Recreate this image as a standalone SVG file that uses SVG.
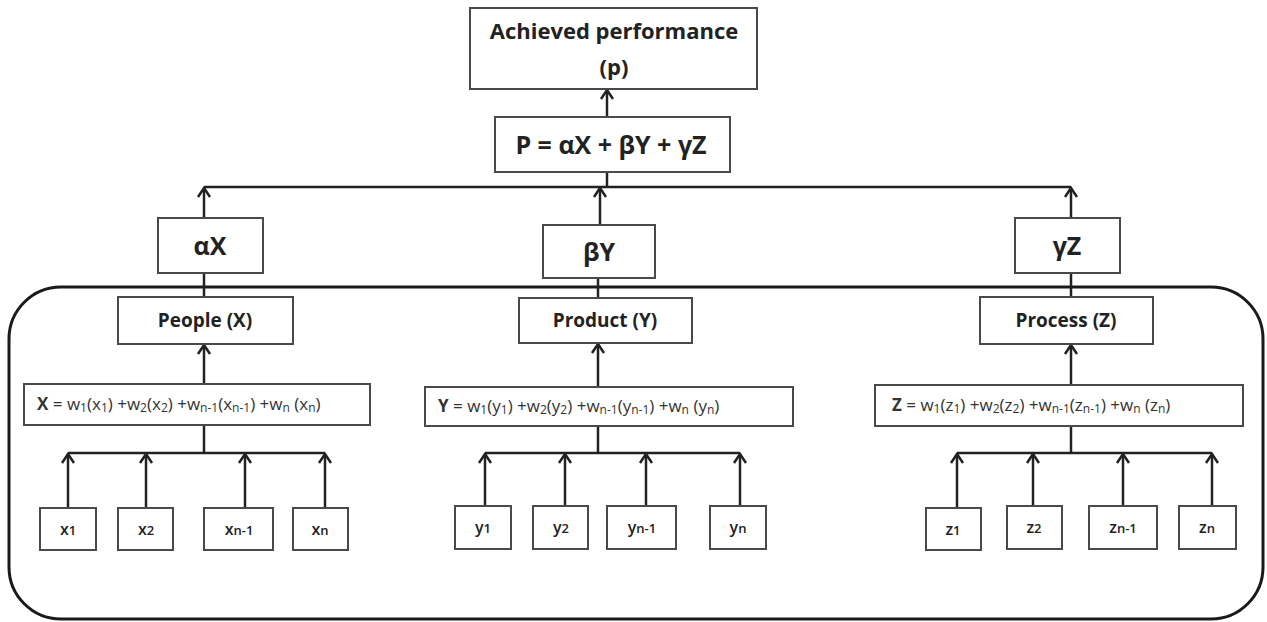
<svg xmlns="http://www.w3.org/2000/svg" width="1267" height="622" viewBox="0 0 1267 622">
  <style>
    .box { fill: #ffffff; stroke: #4a4a4a; stroke-width: 2; }
    .frame { fill: none; stroke: #1a1a1a; stroke-width: 3; }
    .wire { fill: none; stroke: #222222; stroke-width: 2.5; }
    .arrow { fill: none; stroke: #222222; stroke-width: 2.5; marker-end: url(#head); }
    .t { font-family: "Open Sans", "Liberation Sans", sans-serif; fill: #222222; text-anchor: middle; }
    .title { font-size: 22px; font-weight: 700; }
    .big { font-size: 25px; font-weight: 700; }
    .mid { font-size: 19px; font-weight: 700; }
    .f { font-size: 17px; font-weight: 400; fill: #333333; text-anchor: start; }
    .leaf { font-size: 16px; font-weight: 600; }
    .sub { font-size: 12px; }
  </style>
  <defs>
    <!-- open chevron head, tip at the path end -->
    <marker id="head" viewBox="-11 -8 13 16" refX="0" refY="0" markerWidth="13" markerHeight="16" markerUnits="userSpaceOnUse" orient="auto">
      <path d="M-9,-6 L0,0 L-9,6" fill="none" stroke="#222222" stroke-width="2.5"/>
    </marker>
  </defs>

  <!-- outer rounded frame around the three sub-models -->
  <rect id="frame" class="frame" x="9" y="287" width="1254" height="332" rx="52" ry="52"/>

  <!-- connectors -->
  <g id="connectors">
    <!-- P formula to achieved performance -->
    <path class="arrow" d="M607,117 V90"/>
    <!-- summing bus -->
    <path class="wire" d="M204,187 H1071"/>
    <path class="wire" d="M607,172 V187"/>
    <path class="arrow" d="M204,218 V188"/>
    <path class="arrow" d="M600,225 V188"/>
    <path class="arrow" d="M1071,218 V188"/>
    <!-- weighted terms to categories -->
    <path class="wire" d="M204,273 V297"/>
    <path class="wire" d="M598,278 V298"/>
    <path class="wire" d="M1071,273 V297"/>
    <!-- category formulas to categories -->
    <path class="arrow" d="M204,384 V345"/>
    <path class="arrow" d="M598,387 V344"/>
    <path class="arrow" d="M1071,385 V345"/>
    <!-- people leaves -->
    <path class="wire" d="M204,425 V453"/>
    <path class="wire" d="M68,453 H325"/>
    <path class="arrow" d="M68,508 V454"/>
    <path class="arrow" d="M146,508 V454"/>
    <path class="arrow" d="M245,508 V454"/>
    <path class="arrow" d="M325,508 V454"/>
    <!-- product leaves -->
    <path class="wire" d="M598,426 V453"/>
    <path class="wire" d="M485,453 H740"/>
    <path class="arrow" d="M485,506 V454"/>
    <path class="arrow" d="M565,506 V454"/>
    <path class="arrow" d="M646,506 V454"/>
    <path class="arrow" d="M740,506 V454"/>
    <!-- process leaves -->
    <path class="wire" d="M1071,426 V453"/>
    <path class="wire" d="M957,453 H1212"/>
    <path class="arrow" d="M957,508 V454"/>
    <path class="arrow" d="M1033,506 V454"/>
    <path class="arrow" d="M1123,506 V454"/>
    <path class="arrow" d="M1212,506 V454"/>
  </g>

  <g id="achieved">
    <rect class="box" x="470" y="8" width="287" height="81"/>
    <text class="t title" x="614" y="39">Achieved performance</text>
    <text class="t title" x="614" y="75">(p)</text>
  </g>

  <g id="p-formula">
    <rect class="box" x="495" y="117" width="235" height="55"/>
    <text class="t big" x="611" y="154">P = αX + βY + γZ</text>
  </g>

  <g id="alpha-x">
    <rect class="box" x="158" y="218" width="105" height="55"/>
    <text class="t big" x="210" y="255">αX</text>
  </g>
  <g id="beta-y">
    <rect class="box" x="543" y="225" width="112" height="53"/>
    <text class="t big" x="599" y="261">βY</text>
  </g>
  <g id="gamma-z">
    <rect class="box" x="1015" y="218" width="105" height="55"/>
    <text class="t big" x="1067" y="255">γZ</text>
  </g>

  <g id="people">
    <rect class="box" x="118" y="297" width="175" height="47"/>
    <text class="t mid" x="205" y="327">People (X)</text>
  </g>
  <g id="product">
    <rect class="box" x="519" y="298" width="173" height="45"/>
    <text class="t mid" x="605" y="327">Product (Y)</text>
  </g>
  <g id="process">
    <rect class="box" x="980" y="297" width="173" height="47"/>
    <text class="t mid" x="1066" y="327">Process (Z)</text>
  </g>

  <g id="x-formula">
    <rect class="box" x="24" y="384" width="346" height="41"/>
    <text class="t f" x="37" y="410"><tspan font-weight="700">X</tspan> = w<tspan class="sub" dy="2">1</tspan><tspan dy="-2">(x</tspan><tspan class="sub" dy="2">1</tspan><tspan dy="-2">) +w</tspan><tspan class="sub" dy="2">2</tspan><tspan dy="-2">(x</tspan><tspan class="sub" dy="2">2</tspan><tspan dy="-2">) +w</tspan><tspan class="sub" dy="2">n-1</tspan><tspan dy="-2">(x</tspan><tspan class="sub" dy="2">n-1</tspan><tspan dy="-2">) +w</tspan><tspan class="sub" dy="2">n</tspan><tspan dy="-2"> (x</tspan><tspan class="sub" dy="2">n</tspan><tspan dy="-2">)</tspan></text>
  </g>
  <g id="y-formula">
    <rect class="box" x="425" y="387" width="368" height="39"/>
    <text class="t f" x="438" y="412"><tspan font-weight="700">Y</tspan> = w<tspan class="sub" dy="2">1</tspan><tspan dy="-2">(y</tspan><tspan class="sub" dy="2">1</tspan><tspan dy="-2">) +w</tspan><tspan class="sub" dy="2">2</tspan><tspan dy="-2">(y</tspan><tspan class="sub" dy="2">2</tspan><tspan dy="-2">) +w</tspan><tspan class="sub" dy="2">n-1</tspan><tspan dy="-2">(y</tspan><tspan class="sub" dy="2">n-1</tspan><tspan dy="-2">) +w</tspan><tspan class="sub" dy="2">n</tspan><tspan dy="-2"> (y</tspan><tspan class="sub" dy="2">n</tspan><tspan dy="-2">)</tspan></text>
  </g>
  <g id="z-formula">
    <rect class="box" x="875" y="385" width="368" height="41"/>
    <text class="t f" x="892" y="411"><tspan font-weight="700">Z</tspan> = w<tspan class="sub" dy="2">1</tspan><tspan dy="-2">(z</tspan><tspan class="sub" dy="2">1</tspan><tspan dy="-2">) +w</tspan><tspan class="sub" dy="2">2</tspan><tspan dy="-2">(z</tspan><tspan class="sub" dy="2">2</tspan><tspan dy="-2">) +w</tspan><tspan class="sub" dy="2">n-1</tspan><tspan dy="-2">(z</tspan><tspan class="sub" dy="2">n-1</tspan><tspan dy="-2">) +w</tspan><tspan class="sub" dy="2">n</tspan><tspan dy="-2"> (z</tspan><tspan class="sub" dy="2">n</tspan><tspan dy="-2">)</tspan></text>
  </g>

  <!-- people indicators -->
  <g id="x1"><rect class="box" x="40" y="508" width="56" height="42"/><text class="t leaf" x="68" y="535">x<tspan font-size="13">1</tspan></text></g>
  <g id="x2"><rect class="box" x="118" y="508" width="55" height="42"/><text class="t leaf" x="146" y="535">x<tspan font-size="13">2</tspan></text></g>
  <g id="xn-1"><rect class="box" x="204" y="508" width="69" height="42"/><text class="t leaf" x="239" y="535">x<tspan font-size="13">n-1</tspan></text></g>
  <g id="xn"><rect class="box" x="293" y="508" width="55" height="42"/><text class="t leaf" x="320" y="535">x<tspan font-size="13">n</tspan></text></g>

  <!-- product indicators -->
  <g id="y1"><rect class="box" x="455" y="506" width="56" height="43"/><text class="t leaf" x="483" y="533">y<tspan font-size="13">1</tspan></text></g>
  <g id="y2"><rect class="box" x="533" y="506" width="55" height="43"/><text class="t leaf" x="561" y="533">y<tspan font-size="13">2</tspan></text></g>
  <g id="yn-1"><rect class="box" x="607" y="506" width="69" height="43"/><text class="t leaf" x="642" y="533">y<tspan font-size="13">n-1</tspan></text></g>
  <g id="yn"><rect class="box" x="710" y="506" width="56" height="43"/><text class="t leaf" x="738" y="533">y<tspan font-size="13">n</tspan></text></g>

  <!-- process indicators -->
  <g id="z1"><rect class="box" x="926" y="508" width="55" height="42"/><text class="t leaf" x="953" y="535">z<tspan font-size="13">1</tspan></text></g>
  <g id="z2"><rect class="box" x="1007" y="506" width="55" height="43"/><text class="t leaf" x="1034" y="533">z<tspan font-size="13">2</tspan></text></g>
  <g id="zn-1"><rect class="box" x="1089" y="506" width="68" height="43"/><text class="t leaf" x="1123" y="533">z<tspan font-size="13">n-1</tspan></text></g>
  <g id="zn"><rect class="box" x="1179" y="506" width="57" height="43"/><text class="t leaf" x="1207" y="533">z<tspan font-size="13">n</tspan></text></g>
</svg>
